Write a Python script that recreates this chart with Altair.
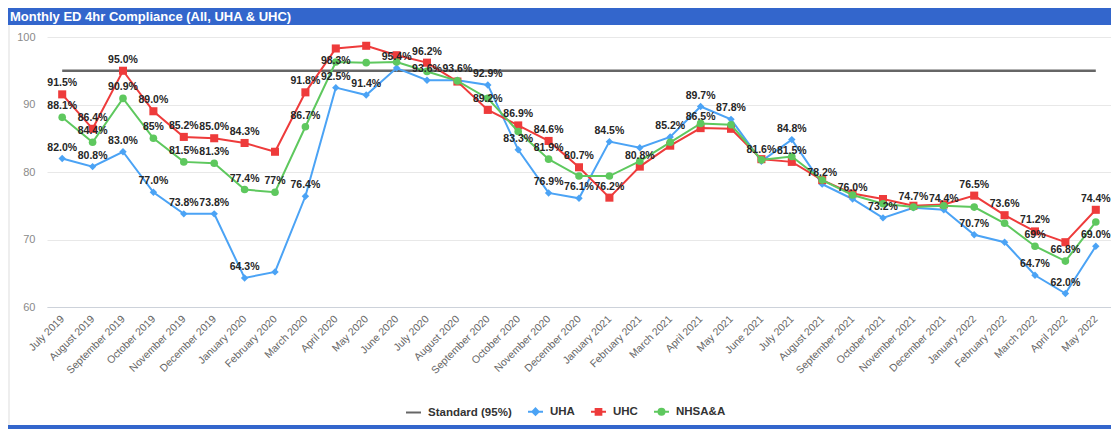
import altair as alt
import pandas as pd

TITLE = "Monthly ED 4hr Compliance (All, UHA & UHC)"

MONTHS = [
    "July 2019", "August 2019", "September 2019", "October 2019", "November 2019",
    "December 2019", "January 2020", "February 2020", "March 2020", "April 2020",
    "May 2020", "June 2020", "July 2020", "August 2020", "September 2020",
    "October 2020", "November 2020", "December 2020", "January 2021", "February 2021",
    "March 2021", "April 2021", "May 2021", "June 2021", "July 2021",
    "August 2021", "September 2021", "October 2021", "November 2021", "December 2021",
    "January 2022", "February 2022", "March 2022", "April 2022", "May 2022",
]

UHA = [82.0, 80.8, 83.0, 77.0, 73.8, 73.8, 64.3, 65.2, 76.4, 92.5,
       91.4, 95.4, 93.6, 93.6, 92.9, 83.3, 76.9, 76.1, 84.5, 83.6,
       85.2, 89.7, 87.8, 81.6, 84.8, 78.2, 76.0, 73.2, 74.7, 74.4,
       70.7, 69.6, 64.7, 62.0, 69.0]

UHC = [91.5, 86.4, 95.0, 89.0, 85.2, 85.0, 84.3, 83.0, 91.8, 98.3,
       98.7, 97.3, 96.2, 93.4, 89.2, 86.9, 84.6, 80.7, 76.2, 80.8,
       83.9, 86.5, 86.4, 81.9, 81.5, 78.8, 76.8, 76.0, 75.0, 75.2,
       76.5, 73.6, 71.2, 69.6, 74.4]

NHSA = [88.1, 84.4, 90.9, 85.0, 81.5, 81.3, 77.4, 77.0, 86.7, 96.3,
        96.2, 96.3, 94.9, 93.5, 90.9, 86.0, 81.9, 79.4, 79.4, 81.6,
        84.4, 87.2, 87.0, 81.8, 82.3, 78.8, 76.6, 75.3, 74.8, 75.0,
        74.8, 72.4, 69.0, 66.8, 72.6]

STANDARD = 95

# which points carry a visible data label (others hidden, as in the original)
UHA_LABELLED = [i for i in range(35) if i not in (7, 19, 31)]
UHC_LABELLED = [0, 1, 2, 3, 4, 5, 6, 8, 9, 12, 14, 15, 16, 17, 18, 19, 21, 24, 30, 31, 32, 34]
NHSA_LABELLED = [0, 1, 2, 3, 4, 5, 6, 7, 8, 16, 32, 33]
LABEL_BELOW = [("UHC", 9)]

SERIES = ["Standard (95%)", "UHA", "UHC", "NHSA&A"]
COLORS = ["#666666", "#4ba3f5", "#ee3b3b", "#5ec85e"]
COLOR_OF = dict(zip(SERIES, COLORS))
LEGEND_SHAPES = [
    "M-1,0H1",
    "M-1,0H1M0,-0.42L0.42,0L0,0.42L-0.42,0Z",
    "M-1,0H1M-0.38,-0.38H0.38V0.38H-0.38Z",
    "M-1,0H1M-0.4,0A0.4,0.4 0 1,0 0.4,0A0.4,0.4 0 1,0 -0.4,0Z",
]

FONT = "Liberation Sans"

rows = []
for name, vals, labelled, fmt in [
    ("UHA", UHA, UHA_LABELLED, "{:.1f}%"),
    ("UHC", UHC, UHC_LABELLED, "{:.1f}%"),
    ("NHSA&A", NHSA, NHSA_LABELLED, "{:g}%"),
]:
    for i, (m, v) in enumerate(zip(MONTHS, vals)):
        rows.append({
            "month": m,
            "series": name,
            "value": v,
            "label": fmt.format(v) if i in labelled else "",
            "below": (name, i) in LABEL_BELOW,
        })
df = pd.DataFrame(rows)

std_df = pd.DataFrame({"month": [MONTHS[0]], "month_end": [MONTHS[-1]],
                       "value": [STANDARD], "series": [SERIES[0]]})
title_df = pd.DataFrame({"t": [TITLE]})
legend_df = pd.DataFrame({"series": SERIES})

x_enc = alt.X(
    "month:N", sort=MONTHS,
    scale=alt.Scale(type="point", padding=0.5, domain=MONTHS),
    axis=alt.Axis(title=None, labelAngle=-45, labelAlign="right", labelBaseline="middle",
                  labelFontSize=10.5, labelColor="#666666", labelFont=FONT,
                  labelPadding=10, ticks=False, grid=False, domainColor="#cdd2da",
                  labelOverlap=False),
)
y_enc = alt.Y(
    "value:Q",
    scale=alt.Scale(domain=[60, 100]),
    axis=alt.Axis(title=None, values=[60, 70, 80, 90, 100], labelFontSize=11,
                  labelColor="#8a8a8a", labelFont=FONT, labelPadding=12,
                  ticks=False, domain=False, gridColor="#e8e8e8"),
)

std_rule = alt.Chart(std_df).mark_rule(strokeWidth=2.5, color=COLOR_OF[SERIES[0]]).encode(
    x=x_enc, x2=alt.X2("month_end:N"), y=y_enc,
)

def series_layers(name, shape, size):
    base = alt.Chart(df).transform_filter(alt.datum.series == name)
    line = base.mark_line(strokeWidth=2, color=COLOR_OF[name]).encode(x=x_enc, y=y_enc)
    pts = base.mark_point(shape=shape, filled=True, size=size, opacity=1,
                          strokeWidth=0, fill=COLOR_OF[name]).encode(x=x_enc, y=y_enc)
    return line, pts

l_uha, p_uha = series_layers("UHA", "diamond", 55)
l_uhc, p_uhc = series_layers("UHC", "square", 65)
l_nhsa, p_nhsa = series_layers("NHSA&A", "circle", 58)

label_style = dict(fontWeight="bold", fontSize=10.5, font=FONT, color="#262626")
labels_above = alt.Chart(df).transform_filter(
    (alt.datum.label != "") & (alt.datum.below == False)
).mark_text(dy=-11, **label_style).encode(x=x_enc, y=y_enc, text="label:N")
labels_below = alt.Chart(df).transform_filter(
    (alt.datum.label != "") & (alt.datum.below == True)
).mark_text(dy=13, **label_style).encode(x=x_enc, y=y_enc, text="label:N")

series_scale = alt.Scale(domain=SERIES, range=COLORS)
leg = alt.Legend(orient="none", legendX=358, legendY=366, direction="horizontal",
                 title=None, symbolSize=225, symbolStrokeWidth=2,
                 labelFont=FONT, labelFontSize=11.5, labelFontWeight="bold",
                 labelColor="#333333", columnPadding=12, labelOffset=6)
legend_layer = alt.Chart(legend_df).transform_filter("false").mark_point(
    filled=True, opacity=1
).encode(
    fill=alt.Fill("series:N", scale=series_scale, legend=leg),
    stroke=alt.Stroke("series:N", scale=series_scale, legend=leg),
    shape=alt.Shape("series:N", scale=alt.Scale(domain=SERIES, range=LEGEND_SHAPES), legend=leg),
)

title_bar = alt.Chart(title_df).mark_rect(color="#3366cc", clip=False).encode(
    x=alt.value(-39), x2=alt.value(1070), y=alt.value(-29), y2=alt.value(-12)
)
title_text = alt.Chart(title_df).mark_text(
    align="left", baseline="middle", color="white", fontWeight="bold",
    fontSize=13, font=FONT, clip=False
).encode(x=alt.value(-37), y=alt.value(-20), text="t:N")
bottom_bar = alt.Chart(title_df).mark_rect(color="#3366cc", clip=False).encode(
    x=alt.value(-39), x2=alt.value(1070), y=alt.value(388), y2=alt.value(392)
)
left_border = alt.Chart(title_df).mark_rule(color="#dddddd", strokeWidth=1).encode(
    x=alt.value(-38), y=alt.value(-12), y2=alt.value(388)
)

chart = alt.layer(
    title_bar, title_text, bottom_bar, left_border,
    std_rule, l_uha, p_uha, l_uhc, p_uhc, l_nhsa, p_nhsa,
    labels_above, labels_below, legend_layer,
).properties(
    width=1064, height=270,
    padding={"left": 39, "top": 29, "right": 0, "bottom": 122},
    autosize=alt.AutoSizeParams(type="none"),
    background="white",
).configure_view(strokeWidth=0)

chart.save("out.html", embed_options={"renderer": "svg", "actions": False})
